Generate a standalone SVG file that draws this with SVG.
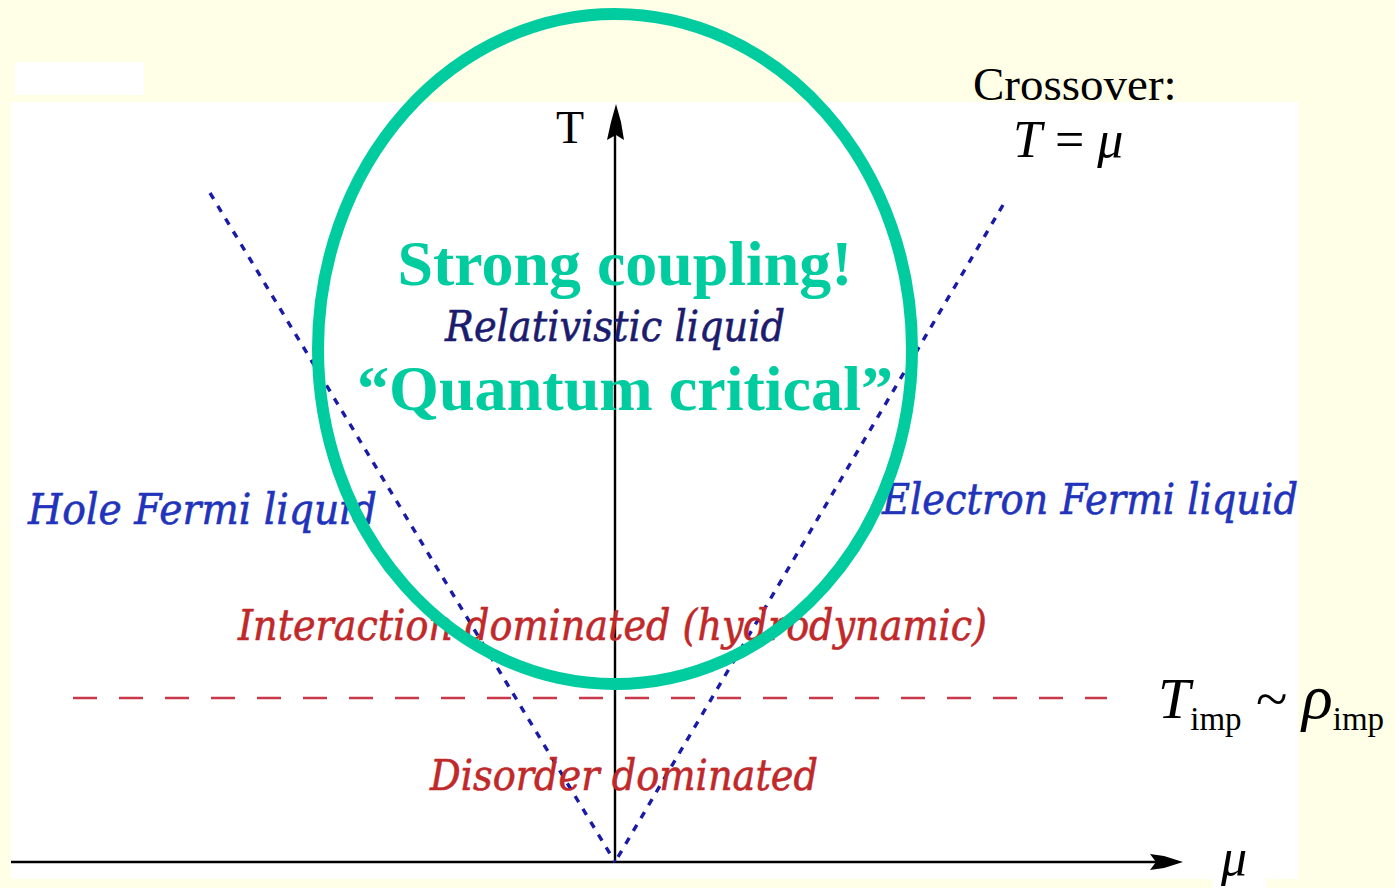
<svg xmlns="http://www.w3.org/2000/svg" width="1395" height="888" viewBox="0 0 1395 888">
<defs>
<style>
.lbl{font-family:"DejaVu Serif","Liberation Serif",serif;font-style:italic;font-size:42px;stroke-width:0.6px}
.blue{fill:#2233bb;stroke:#2233bb}
.navy{fill:#1c1c6e;stroke:#1c1c6e}
.red{fill:#c0282a;stroke:#c0282a}
.green{font-family:"Liberation Serif","Times New Roman",serif;font-weight:bold;font-size:64px;fill:#00cca0}
.math{font-family:"Liberation Serif","Times New Roman",serif;fill:#000}
.it{font-style:italic}
.axis{stroke:#000;stroke-width:2.4;fill:none}
.vline{stroke:#1a1aa8;stroke-width:3.4;stroke-dasharray:7 8;fill:none}
.hline{stroke:#c83a4a;stroke-width:2.6;stroke-dasharray:24 22;fill:none}
</style>
</defs>
<rect x="0" y="0" width="1395" height="888" fill="#ffffe8"/>
<rect x="15" y="62" width="129" height="33" fill="#fff"/>
<rect x="11" y="102" width="1287" height="777" fill="#fff"/>
<rect x="1213" y="870" width="53" height="18" fill="#fff"/>

<g id="connectors">
<line class="axis" x1="615" y1="862" x2="615" y2="118"/>
<polygon points="616,104 621,122 624,140 616,135 607,140 611,122" fill="#000"/>
<line class="axis" x1="11" y1="862" x2="1165" y2="862" stroke-width="2.5"/>
<polygon points="1183,862 1164,856 1150,854 1156,862 1150,870 1164,868" fill="#000"/>
<line class="vline" x1="210" y1="193" x2="615" y2="862"/>
<line class="vline" x1="1003" y1="205" x2="615" y2="862"/>
<line class="hline" x1="73" y1="698" x2="1107" y2="698"/>
</g>

<g id="axis-T"><text class="math" x="556" y="143" font-size="46">T</text></g>
<g id="axis-mu"><text class="math it" x="1221" y="875" font-size="52">μ</text></g>

<g id="hole-fermi-liquid"><text class="lbl blue" x="28" y="524" textLength="349" lengthAdjust="spacingAndGlyphs">Hole Fermi liquid</text></g>
<g id="electron-fermi-liquid"><text class="lbl blue" x="882" y="514" textLength="416" lengthAdjust="spacingAndGlyphs">Electron Fermi liquid</text></g>
<g id="relativistic-liquid"><text class="lbl navy" x="445" y="341" textLength="340" lengthAdjust="spacingAndGlyphs">Relativistic liquid</text></g>
<g id="interaction-dominated"><text class="lbl red" x="238" y="640" textLength="749" lengthAdjust="spacingAndGlyphs">Interaction dominated (hydrodynamic)</text></g>
<g id="disorder-dominated"><text class="lbl red" x="430" y="790" textLength="388" lengthAdjust="spacingAndGlyphs">Disorder dominated</text></g>

<g id="crossover">
<text class="math" x="973" y="100" font-size="47">Crossover:</text>
<text class="math" x="1013" y="157" font-size="52"><tspan class="it">T</tspan> = <tspan class="it">μ</tspan></text>
</g>

<g id="t-imp">
<text class="math" x="1158" y="718" font-size="58"><tspan class="it">T</tspan><tspan font-size="33" dy="12">imp</tspan><tspan dy="-12"> ~ </tspan><tspan class="it" font-size="64">ρ</tspan><tspan font-size="33" dy="12">imp</tspan></text>
</g>

<g id="strong-coupling">
<ellipse cx="615" cy="349" rx="297" ry="335" fill="none" stroke="#00cca0" stroke-width="12"/>
<text class="green" x="625" y="285" text-anchor="middle" textLength="455" lengthAdjust="spacingAndGlyphs">Strong coupling!</text>
<text class="green" x="625" y="410" text-anchor="middle" textLength="536" lengthAdjust="spacingAndGlyphs">“Quantum critical”</text>
</g>
</svg>
